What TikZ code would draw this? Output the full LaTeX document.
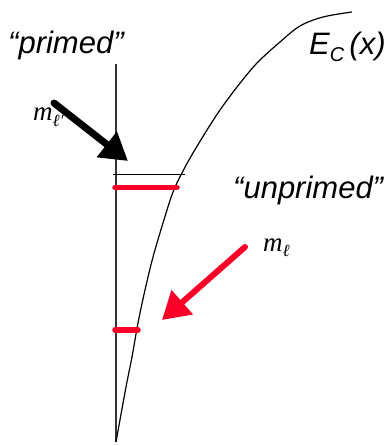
\documentclass[tikz,border=0pt]{standalone}
\usepackage{fontspec}
\setmainfont{Liberation Serif}
\newfontfamily\arialfont{Liberation Sans}
\usetikzlibrary{arrows.meta}
\definecolor{hotred}{RGB}{250,0,40}
\tikzset{
  bigtext/.style={font=\arialfont\itshape\fontsize{31}{34}\selectfont, inner sep=0pt, anchor=base west},
  mtext/.style={font=\itshape\fontsize{27}{29}\selectfont, inner sep=0pt, anchor=base west},
  axisline/.style={line width=1.5pt, draw=black!80},
  curveline/.style={line width=1.2pt, black},
  redbar/.style={line width=5.5pt, hotred, line cap=round},
  bigarrow/.style={line width=7pt, -{Triangle[length=27pt,width=31pt]}, line cap=round}
}
\newcommand{\subsc}[1]{\raisebox{-0.22em}{\fontsize{17}{18}\selectfont #1}}
\begin{document}
\begin{tikzpicture}[x=1pt,y=-1pt]
\useasboundingbox (0,0) rectangle (390,446);
% axis
\coordinate (atop) at (116,64);
\coordinate (abot) at (116,442);
\draw[axisline] (atop) -- (abot);
% curve E_C(x)
\draw[curveline] plot[smooth, tension=0.55] coordinates {(116,442) (126,387) (132,357) (138,323) (145,290) (153,257) (163,223) (173,192) (183,171) (193,153) (207,130) (220,110) (237,87) (257,63) (280,42) (300,26) (323,17) (352,12)};
% black level line
\coordinate (bl1) at (113,174.5);
\coordinate (bl2) at (185,174.5);
\draw[line width=1.6pt] (bl1) -- (bl2);
% red bars
\coordinate (rb1) at (115,187.5);
\coordinate (rb2) at (177,187.5);
\draw[redbar] (rb1) -- (rb2);
\coordinate (rc1) at (115,330);
\coordinate (rc2) at (138,330);
\draw[redbar] (rc1) -- (rc2);
% labels
\node[bigtext] (primed) at (8,54) {“primed”};
\node[bigtext] (unprimed) at (233,198) {“unprimed”};
\node[bigtext] (ec) at (309,55) {E\raisebox{-0.22em}{\fontsize{20}{22}\selectfont C}\,(x)};
\node[mtext] (mtop) at (33,121) {m\subsc{ℓ′}};
\node[mtext] (mbot) at (263,251) {m\subsc{ℓ}};
% arrows
\coordinate (ka) at (54,103);
\coordinate (kb) at (128,161);
\draw[bigarrow, black] (ka) -- (kb);
\coordinate (ra) at (245,247);
\coordinate (rb) at (162,320);
\draw[bigarrow, hotred, line width=6pt] (ra) -- (rb);
\end{tikzpicture}
\end{document}
